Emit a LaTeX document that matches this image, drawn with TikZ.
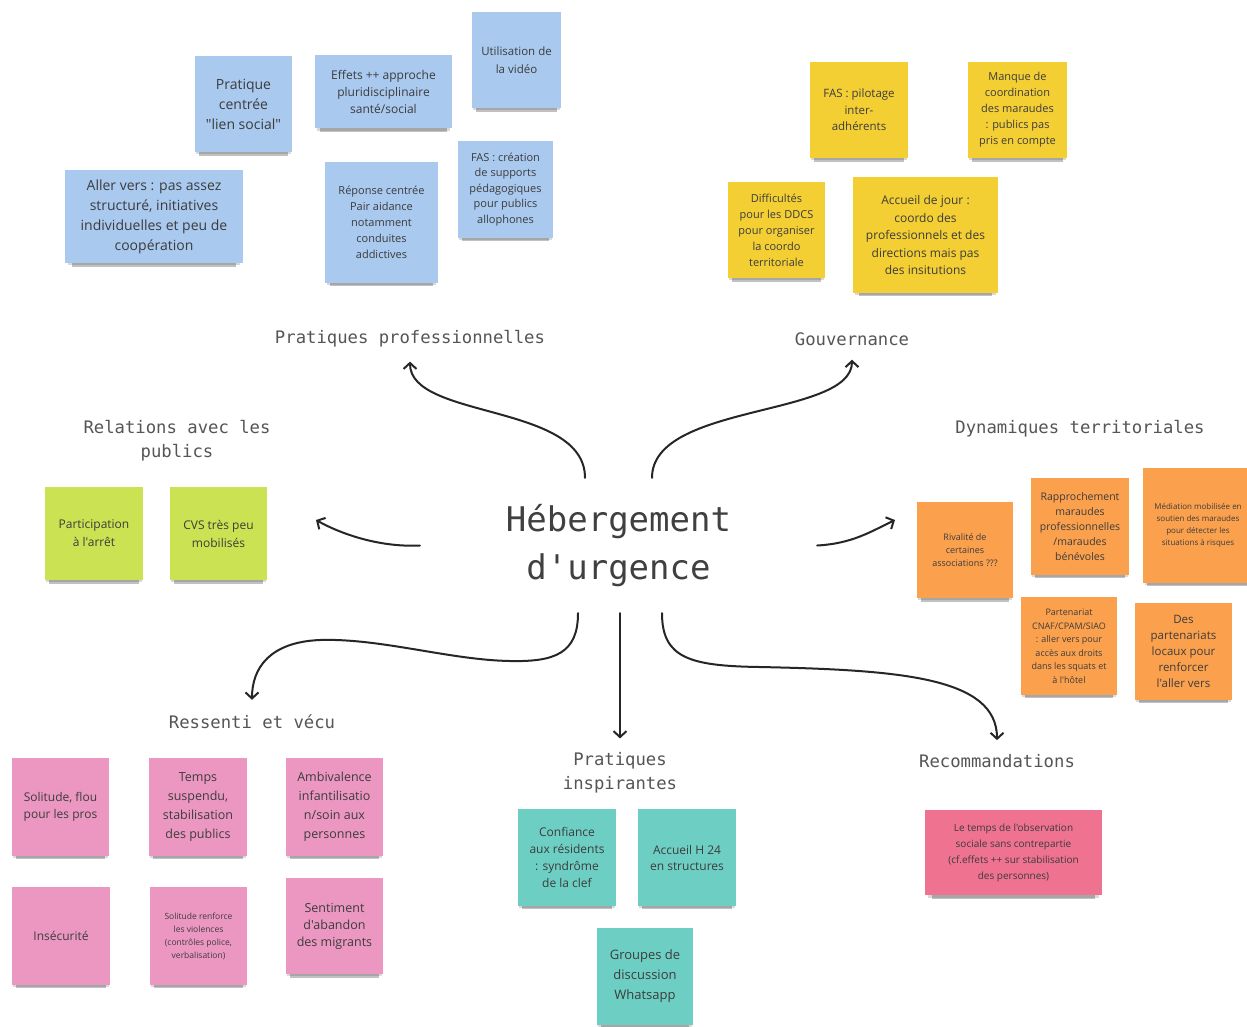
\documentclass[tikz,border=0pt]{standalone}
\usepackage{fontspec}
\setmainfont{Open Sans}
\newfontfamily\notef{Open Sans}
\newfontfamily\monof{DejaVu Sans Mono}
\usetikzlibrary{arrows.meta,shadows}
\newcommand\nfs[2]{\notef\fontsize{#1}{#2}\selectfont}
\newcommand\mfs[2]{\monof\fontsize{#1}{#2}\selectfont}
\definecolor{cblue}{RGB}{169,201,239}
\definecolor{cyellow}{RGB}{244,207,52}
\definecolor{corange}{RGB}{251,161,78}
\definecolor{cpink}{RGB}{236,151,194}
\definecolor{cteal}{RGB}{109,207,195}
\definecolor{cred}{RGB}{239,114,144}
\definecolor{cgreen}{RGB}{203,227,82}
\definecolor{ntext}{RGB}{60,60,60}
\definecolor{ltext}{RGB}{85,85,85}
\tikzset{
  note/.style={rectangle, fill=#1, inner sep=2pt, align=center, text=ntext,
    drop shadow={shadow xshift=0pt, shadow yshift=-4pt, shadow scale=0.97, opacity=0.15, fill=black},
    drop shadow={shadow xshift=0pt, shadow yshift=-8pt, shadow scale=0.92, opacity=0.3, fill=black!80}},
  lab/.style={font=\mfs{17.25}{24}, text=ltext, align=center, inner sep=2pt},
  arr/.style={line width=2pt, draw=black!85, line cap=round, -{Straight Barb[length=6pt,width=13pt]}},
}
\begin{document}
\begin{tikzpicture}[x=1pt,y=-1pt]
\path[use as bounding box, fill=white] (0,0) rectangle (1247,1026);

% ---------- blue notes
\node[note=cblue, minimum width=97pt, minimum height=96pt, font=\nfs{14}{20}] (lien) at (243.5,104) {Pratique\\centrée\\"lien social"};
\node[note=cblue, minimum width=178pt, minimum height=93pt, font=\nfs{14}{20}] (aller) at (154,216.5) {Aller vers : pas assez\\structuré, initiatives\\individuelles et peu de\\coopération};
\node[note=cblue, minimum width=137pt, minimum height=73pt, font=\nfs{12}{17}] (effets) at (383.5,91.5) {Effets ++ approche\\pluridisciplinaire\\santé/social};
\node[note=cblue, minimum width=89pt, minimum height=96pt, font=\nfs{11.5}{18}] (video) at (516.5,60) {Utilisation de\\la vidéo};
\node[note=cblue, minimum width=113pt, minimum height=121pt, font=\nfs{11}{16}] (reponse) at (381.5,222.5) {Réponse centrée\\Pair aidance\\notamment\\conduites\\addictives};
\node[note=cblue, minimum width=95pt, minimum height=97pt, font=\nfs{11}{15.5}] (fascrea) at (505.5,189.5) {FAS : création\\de supports\\pédagogiques\\pour publics\\allophones};

% ---------- yellow notes
\node[note=cyellow, minimum width=98pt, minimum height=96pt, font=\nfs{11.5}{16.5}] (pilot) at (859,110) {FAS : pilotage\\inter-\\adhérents};
\node[note=cyellow, minimum width=99pt, minimum height=96pt, font=\nfs{11}{16}] (manque) at (1017.5,110) {Manque de\\coordination\\des maraudes\\: publics pas\\pris en compte};
\node[note=cyellow, minimum width=97pt, minimum height=96pt, font=\nfs{11}{16}] (ddcs) at (776.5,230) {Difficultés\\pour les DDCS\\pour organiser\\la coordo\\territoriale};
\node[note=cyellow, minimum width=145pt, minimum height=116pt, font=\nfs{12}{17.5}] (accjour) at (925.5,235) {Accueil de jour :\\coordo des\\professionnels et des\\directions mais pas\\des insitutions};

% ---------- orange notes
\node[note=corange, minimum width=96pt, minimum height=96pt, font=\nfs{9}{13}] (rival) at (965,550) {Rivalité de\\certaines\\associations ???};
\node[note=corange, minimum width=98pt, minimum height=97pt, font=\nfs{10.5}{15}] (rappro) at (1080,526.5) {Rapprochement\\maraudes\\professionnelles\\/maraudes\\bénévoles};
\node[note=corange, minimum width=110pt, minimum height=115pt, font=\nfs{8}{12}] (media) at (1198,525.5) {Médiation mobilisée en\\soutien des maraudes\\pour détecter les\\situations à risques};
\node[note=corange, minimum width=96pt, minimum height=98pt, font=\nfs{9}{13.5}] (parten) at (1069,646) {Partenariat\\CNAF/CPAM/SIAO\\: aller vers pour\\accès aux droits\\dans les squats et\\à l'hôtel};
\node[note=corange, minimum width=97pt, minimum height=97pt, font=\nfs{11.5}{16}] (locaux) at (1183.5,651.5) {Des\\partenariats\\locaux pour\\renforcer\\l'aller vers};

% ---------- green notes
\node[note=cgreen, minimum width=98pt, minimum height=93pt, font=\nfs{12}{18}] (partic) at (94,533.5) {Participation\\à l'arrêt};
\node[note=cgreen, minimum width=97pt, minimum height=93pt, font=\nfs{12}{18}] (cvs) at (218.5,533.5) {CVS très peu\\mobilisés};

% ---------- pink notes
\node[note=cpink, minimum width=97pt, minimum height=98pt, font=\nfs{12}{17}] (solflou) at (60.5,807) {Solitude, flou\\pour les pros};
\node[note=cpink, minimum width=98pt, minimum height=98pt, font=\nfs{12.5}{19}] (tempsus) at (198,807) {Temps\\suspendu,\\stabilisation\\des publics};
\node[note=cpink, minimum width=97pt, minimum height=98pt, font=\nfs{12.5}{19}] (ambiv) at (334.5,807) {Ambivalence\\infantilisatio\\n/soin aux\\personnes};
\node[note=cpink, minimum width=98pt, minimum height=98pt, font=\nfs{12}{17}] (insec) at (61,936) {Insécurité};
\node[note=cpink, minimum width=97pt, minimum height=98pt, font=\nfs{8.5}{13}] (solvio) at (198.5,936) {Solitude renforce\\les violences\\(contrôles police,\\verbalisation)};
\node[note=cpink, minimum width=97pt, minimum height=96pt, font=\nfs{12.5}{17}] (sentim) at (334.5,926) {Sentiment\\d'abandon\\des migrants};

% ---------- teal notes
\node[note=cteal, minimum width=98pt, minimum height=97pt, font=\nfs{12}{17}] (confi) at (567,857.5) {Confiance\\aux résidents\\: syndrôme\\de la clef};
\node[note=cteal, minimum width=98pt, minimum height=97pt, font=\nfs{12}{16}] (h24) at (687,857.5) {Accueil H 24\\en structures};
\node[note=cteal, minimum width=96pt, minimum height=97pt, font=\nfs{13}{20}] (whats) at (645,976.5) {Groupes de\\discussion\\Whatsapp};

% ---------- red note
\node[note=cred, minimum width=177pt, minimum height=85pt, font=\nfs{10}{16}] (obs) at (1013.5,852.5) {Le temps de l'observation\\sociale sans contrepartie\\(cf.effets ++ sur stabilisation\\des personnes)};

% ---------- labels
\node[lab] (pp) at (410,339) {Pratiques professionnelles};
\node[lab] (gouv) at (852,339) {Gouvernance};
\node[lab] (rel) at (177,441) {Relations avec les\\publics};
\node[lab] (dyn) at (1080,429) {Dynamiques territoriales};
\node[lab] (ress) at (252,722) {Ressenti et vécu};
\node[lab] (insp) at (620,773) {Pratiques\\inspirantes};
\node[lab] (reco) at (997,761) {Recommandations};

% ---------- centre
\node[font=\mfs{34}{48}, text=black!75, align=center, minimum width=397pt, minimum height=135pt, inner sep=0pt] (ctr) at (618.5,545.5) {Hébergement\\d'urgence};

\coordinate (relTip) at (316,520);
\coordinate (dynTip) at (895,520);

% ---------- connectors
\draw[arr, shorten >=12pt] ([xshift=-33.5pt]ctr.north) .. controls +(0,-75) and +(0,70) .. (pp.south);
\draw[arr, shorten >=12pt] ([xshift=33.5pt]ctr.north) .. controls +(0,-75) and +(0,70) .. (gouv.south);
\draw[arr] (ctr.west) .. controls +(-40,2) and +(25,14) .. (relTip);
\draw[arr] (ctr.east) .. controls +(35,-2) and +(-25,12) .. (dynTip);
\draw[arr, shorten >=13pt] ([xshift=-40.5pt]ctr.south) .. controls +(0,40) and (555,662) .. (510,661)
   .. controls (450,660) and (380,638) .. (320,640)
   .. controls (270,642) and +(0,-45) .. (ress.north);
\draw[arr, shorten >=12pt] ([xshift=1.5pt]ctr.south) -- (ctr.south -| insp.north) -- (insp.north);
\draw[arr, shorten >=12pt] ([xshift=43.5pt]ctr.south) .. controls +(0,45) and (690,666) .. (760,667)
   .. controls (900,670) and +(0,-75) .. (reco.north);
\end{tikzpicture}
\end{document}
